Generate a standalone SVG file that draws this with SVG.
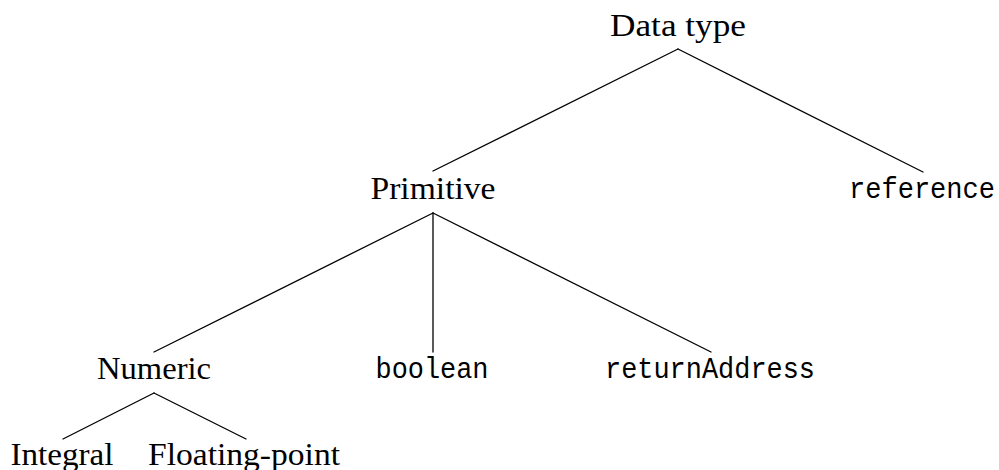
<svg xmlns="http://www.w3.org/2000/svg" width="999" height="470" viewBox="0 0 999 470">
  <style>
    .serif { font-family: "Liberation Serif", "DejaVu Serif", serif; font-size: 32px; fill: #000; text-anchor: middle; }
    .mono { font-family: "Liberation Mono", "DejaVu Sans Mono", monospace; font-size: 29px; fill: #000; text-anchor: middle; }
    .edge { stroke: #000; stroke-width: 1.3; fill: none; stroke-linecap: round; }
  </style>
  <rect width="999" height="470" fill="#fff"/>

  <!-- tree edges -->
  <g id="connectors">
    <line class="edge" x1="678" y1="49" x2="433" y2="171"/>
    <line class="edge" x1="678" y1="49" x2="923" y2="172"/>
    <line class="edge" x1="433" y1="213" x2="154" y2="352"/>
    <line class="edge" x1="433" y1="213" x2="433" y2="352"/>
    <line class="edge" x1="433" y1="213" x2="711" y2="352"/>
    <line class="edge" x1="154" y1="393" x2="63" y2="439"/>
    <line class="edge" x1="154" y1="393" x2="246" y2="439"/>
  </g>

  <!-- nodes -->
  <g id="data-type"><text class="serif" x="678" y="36" textLength="136" lengthAdjust="spacingAndGlyphs">Data type</text></g>
  <g id="primitive"><text class="serif" x="433" y="199" textLength="125" lengthAdjust="spacingAndGlyphs">Primitive</text></g>
  <g id="reference"><text class="mono" x="922" y="198" textLength="146" lengthAdjust="spacingAndGlyphs">reference</text></g>
  <g id="numeric"><text class="serif" x="154" y="379" textLength="114" lengthAdjust="spacingAndGlyphs">Numeric</text></g>
  <g id="boolean"><text class="mono" x="432" y="378" textLength="113" lengthAdjust="spacingAndGlyphs">boolean</text></g>
  <g id="returnAddress"><text class="mono" x="710" y="378" textLength="210" lengthAdjust="spacingAndGlyphs">returnAddress</text></g>
  <g id="integral"><text class="serif" x="62" y="465" textLength="103" lengthAdjust="spacingAndGlyphs">Integral</text></g>
  <g id="floating-point"><text class="serif" x="244" y="465" textLength="192" lengthAdjust="spacingAndGlyphs">Floating-point</text></g>
</svg>
